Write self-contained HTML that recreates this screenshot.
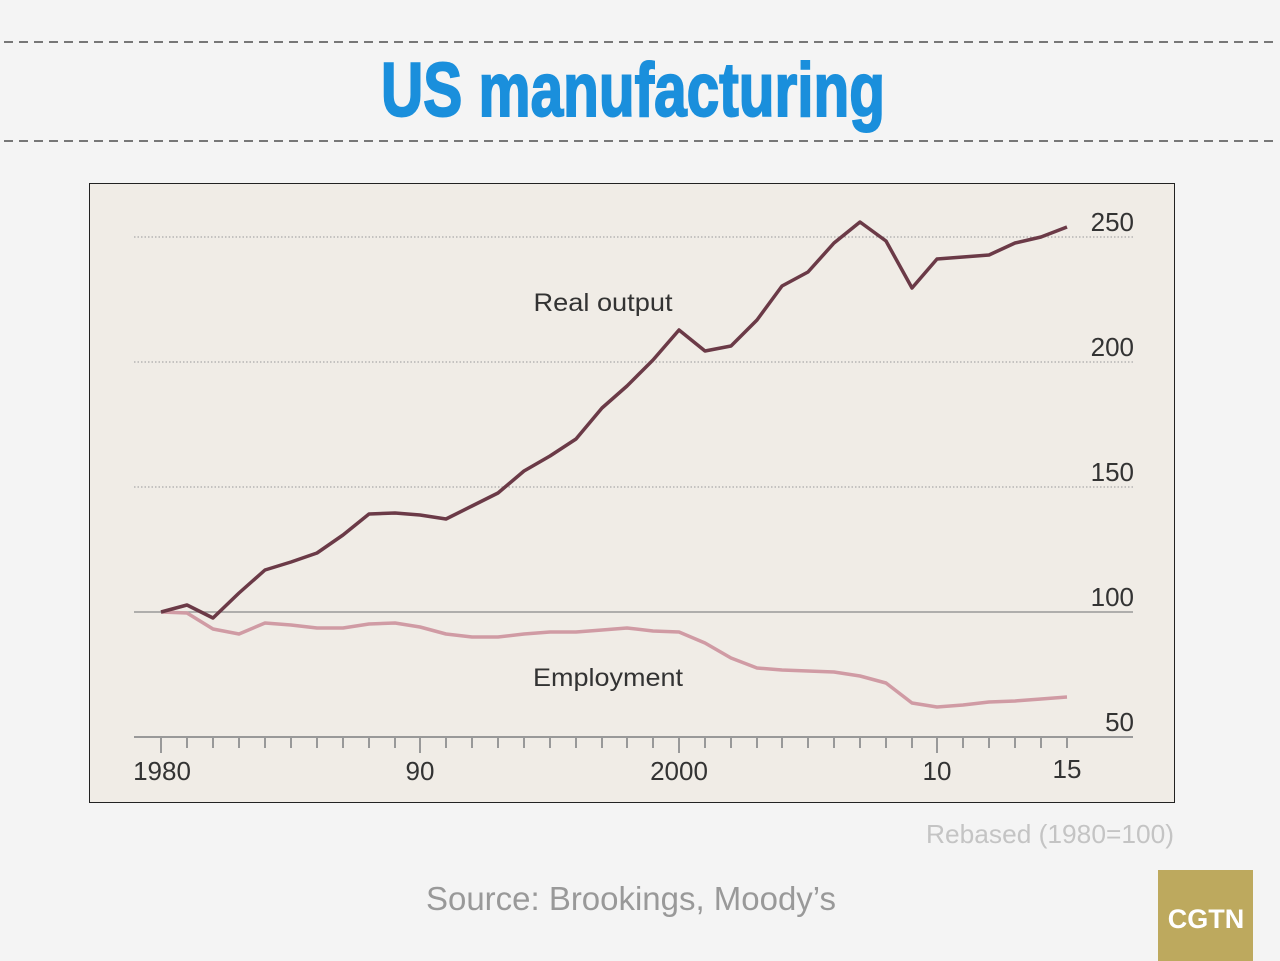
<!DOCTYPE html>
<html><head><meta charset="utf-8"><style>
html,body{margin:0;padding:0;background:#f4f4f4;}
svg{display:block;font-family:"Liberation Sans",sans-serif;}
</style></head><body>
<svg width="1280" height="961" viewBox="0 0 1280 961" xmlns="http://www.w3.org/2000/svg">
<rect width="1280" height="961" fill="#f4f4f4"/>
<line x1="4" y1="42" x2="1278" y2="42" stroke="#777" stroke-width="2" stroke-dasharray="9,6"/>
<line x1="4" y1="141" x2="1278" y2="141" stroke="#777" stroke-width="2" stroke-dasharray="9,6"/>
<text x="633" y="116" text-anchor="middle" font-size="76" font-weight="bold" fill="#1a8fdc" stroke="#1a8fdc" stroke-width="2" textLength="504" lengthAdjust="spacingAndGlyphs">US manufacturing</text>
<rect x="89.5" y="183.5" width="1085" height="619" fill="#f0ece6" stroke="#222" stroke-width="1"/>
<g stroke="#999" stroke-width="1" stroke-dasharray="1.5,2">
<line x1="134" y1="237" x2="1133" y2="237"/>
<line x1="134" y1="362" x2="1133" y2="362"/>
<line x1="134" y1="487" x2="1133" y2="487"/>
</g>
<line x1="134" y1="612" x2="1133" y2="612" stroke="#999" stroke-width="1.5"/>
<line x1="134" y1="737" x2="1133" y2="737" stroke="#999" stroke-width="2"/>
<g stroke="#999" stroke-width="2">
<line x1="161" y1="737" x2="161" y2="753"/><line x1="187" y1="737" x2="187" y2="748"/><line x1="213" y1="737" x2="213" y2="748"/><line x1="239" y1="737" x2="239" y2="748"/><line x1="265" y1="737" x2="265" y2="748"/><line x1="291" y1="737" x2="291" y2="748"/><line x1="317" y1="737" x2="317" y2="748"/><line x1="343" y1="737" x2="343" y2="748"/><line x1="369" y1="737" x2="369" y2="748"/><line x1="395" y1="737" x2="395" y2="748"/>
<line x1="420" y1="737" x2="420" y2="753"/><line x1="446" y1="737" x2="446" y2="748"/><line x1="472" y1="737" x2="472" y2="748"/><line x1="498" y1="737" x2="498" y2="748"/><line x1="524" y1="737" x2="524" y2="748"/><line x1="550" y1="737" x2="550" y2="748"/><line x1="576" y1="737" x2="576" y2="748"/><line x1="602" y1="737" x2="602" y2="748"/><line x1="627" y1="737" x2="627" y2="748"/><line x1="653" y1="737" x2="653" y2="748"/>
<line x1="679" y1="737" x2="679" y2="753"/><line x1="705" y1="737" x2="705" y2="748"/><line x1="731" y1="737" x2="731" y2="748"/><line x1="757" y1="737" x2="757" y2="748"/><line x1="782" y1="737" x2="782" y2="748"/><line x1="808" y1="737" x2="808" y2="748"/><line x1="834" y1="737" x2="834" y2="748"/><line x1="860" y1="737" x2="860" y2="748"/><line x1="886" y1="737" x2="886" y2="748"/><line x1="912" y1="737" x2="912" y2="748"/>
<line x1="937" y1="737" x2="937" y2="753"/><line x1="963" y1="737" x2="963" y2="748"/><line x1="989" y1="737" x2="989" y2="748"/><line x1="1015" y1="737" x2="1015" y2="748"/><line x1="1041" y1="737" x2="1041" y2="748"/><line x1="1067" y1="737" x2="1067" y2="748"/>
</g>
<g font-size="26" fill="#333" text-anchor="end">
<text x="1134" y="231">250</text><text x="1134" y="356">200</text><text x="1134" y="481">150</text><text x="1134" y="606">100</text><text x="1134" y="731">50</text>
</g>
<g font-size="26" fill="#333" text-anchor="middle">
<text x="162" y="780">1980</text><text x="420" y="780">90</text><text x="679" y="780">2000</text><text x="937" y="780">10</text><text x="1067" y="778">15</text>
</g>
<text x="603" y="311" font-size="25" fill="#333" text-anchor="middle" textLength="139" lengthAdjust="spacingAndGlyphs">Real output</text>
<text x="608" y="686" font-size="25" fill="#333" text-anchor="middle" textLength="150" lengthAdjust="spacingAndGlyphs">Employment</text>
<polyline fill="none" stroke="#d09ba4" stroke-width="3.5" stroke-linejoin="round" points="161,612 187,613 213,629 239,634 265,623 291,625 317,628 343,628 369,624 395,623 420,627 446,634 472,637 498,637 524,634 550,632 576,632 602,630 627,628 653,631 679,632 705,643 731,658 757,668 782,670 808,671 834,672 860,676 886,683 912,703 937,707 963,705 989,702 1015,701 1041,699 1067,697"/>
<polyline fill="none" stroke="#6b3a47" stroke-width="3.5" stroke-linejoin="round" points="161,612 187,605 213,618 239,593 265,570 291,562 317,553 343,535 369,514 395,513 420,515 446,519 472,506 498,493 524,471 550,456 576,439 602,408 627,386 653,360 679,330 705,351 731,346 757,320 782,286 808,272 834,243 860,222 886,241 912,288 937,259 963,257 989,255 1015,243 1041,237 1067,227"/>
<text x="1174" y="843" font-size="26" fill="#c4c4c4" text-anchor="end" textLength="248" lengthAdjust="spacingAndGlyphs">Rebased (1980=100)</text>
<text x="631" y="910" font-size="33" fill="#999" text-anchor="middle" textLength="410" lengthAdjust="spacingAndGlyphs">Source: Brookings, Moody’s</text>
<rect x="1158" y="870" width="95" height="91" fill="#bda95e"/>
<text x="1206" y="928" font-size="27" font-weight="bold" fill="#fff" text-anchor="middle">CGTN</text>
</svg>
</body></html>
